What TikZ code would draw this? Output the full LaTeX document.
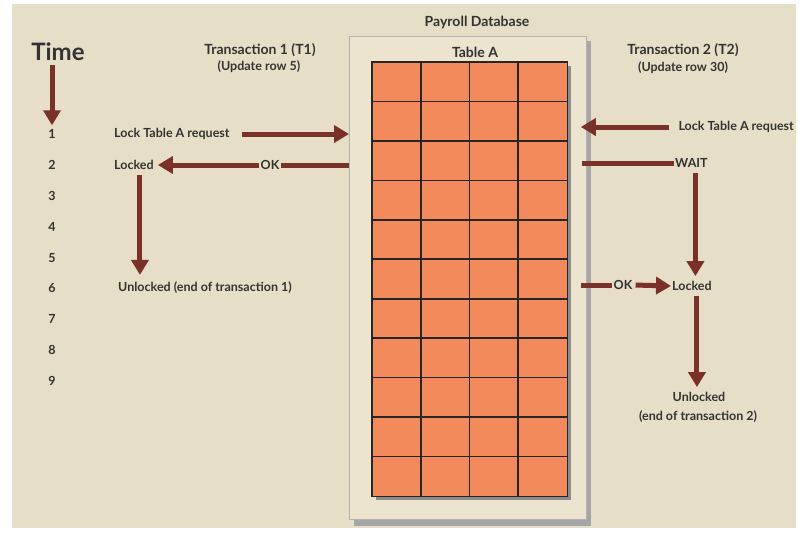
\documentclass[tikz,border=0pt]{standalone}
\usepackage{fontspec}
\setmainfont{Lato}
\usetikzlibrary{arrows.meta,positioning}

\definecolor{paper}{HTML}{E6DEC7}
\definecolor{panel}{HTML}{ECE4CF}
\definecolor{arrowred}{HTML}{7A3129}
\definecolor{cellorange}{HTML}{F38A5C}
\definecolor{ink}{HTML}{333333}

\tikzset{
  flow/.style={arrowred, line width=5pt, -{Triangle[width=17pt,length=15pt]}},
  bar/.style={arrowred, line width=5pt},
  lbl/.style={font=\bfseries\fontsize{12.5}{15}\selectfont, text=ink, inner sep=1pt},
  head/.style={font=\bfseries\fontsize{14}{16}\selectfont, text=ink, inner sep=1pt},
  sublbl/.style={font=\bfseries\fontsize{12.5}{14}\selectfont, text=ink, inner sep=1pt},
  tick/.style={font=\bfseries\fontsize{12.5}{14}\selectfont, text=ink, inner sep=1pt},
  gridline/.style={draw=black!85, line width=1.6pt},
}

\begin{document}
\begin{tikzpicture}[x=1pt,y=-1pt]
\useasboundingbox (0,0) rectangle (799,538);
\fill[paper] (12,4) rectangle (796,528);

% database panel
\fill[black!35] (354,41) rectangle (591,526);
\node[draw=gray!60, fill=panel, line width=0.8pt, minimum width=237pt, minimum height=483pt,
  anchor=north west, inner sep=0] (db) at (349,36) {};
\node[head] (dbname) at (477,22) {Payroll Database};
\node[head] (tblname) at (475,52) {Table A};

% table grid
\fill[black!45] (376,66) rectangle (571,500);
\node[fill=cellorange, minimum width=195pt, minimum height=434pt, anchor=north west,
  inner sep=0] (tbl) at (372,62) {};
\foreach \i in {1,2,3}
  \draw[gridline] (372+\i*48.75,62) -- (372+\i*48.75,496);
\foreach \j in {1,...,10}
  \draw[gridline] (372,62+\j*39.45) -- (567,62+\j*39.45);
\draw[gridline] (tbl.north west) rectangle (tbl.south east);

% time axis
\node[font=\bfseries\fontsize{24}{28}\selectfont, text=ink] (time) at (58,52) {Time};
\foreach \n in {1,...,9}
  \node[tick] (t\n) at (52,134+\n*30.9-30.9) {\n};
\draw[flow, shorten >=3pt] (time.south -| t1.north) -- (t1.north);

% transaction 1
\node[head] (tr1) at (260,50) {Transaction 1 (T1)};
\node[sublbl] (up1) at (259,67) {(Update row 5)};
\node[lbl, anchor=west] (req1) at (113,134) {Lock Table A request};
\node[lbl, anchor=west] (lock1) at (113,165) {Locked};
\node[lbl] (ok1) at (270,165) {OK};
\node[lbl, anchor=west] (unlock1) at (117,288) {Unlocked (end of transaction 1)};
\draw[flow, shorten <=11pt] (req1.east) -- (req1 -| db.west);
\draw[bar] (ok1 -| db.west) -- (ok1.east);
\draw[flow, shorten >=3pt] (ok1.west) -- (lock1.east);
\draw[flow, shorten <=4pt, shorten >=6pt] ([xshift=6pt]lock1.south) -- ([xshift=6pt]lock1.south |- unlock1.north);

% transaction 2
\node[head] (tr2) at (683,50) {Transaction 2 (T2)};
\node[sublbl] (up2) at (683,68) {(Update row 30)};
\node[lbl, anchor=east] (req2) at (795,127) {Lock Table A request};
\node[lbl, anchor=west] (wait2) at (674,163) {WAIT};
\node[lbl] (ok2) at (623,285) {OK};
\node[lbl, anchor=west] (lock2) at (671,286) {Locked};
\node[lbl] (unlock2) at (699,397) {Unlocked};
\node[lbl] (end2) at (698,417) {(end of transaction 2)};
\draw[flow, shorten <=8pt, shorten >=-6pt] (req2.west) -- (req2 -| db.east);
\draw[bar, shorten <=-5pt] (wait2 -| db.east) -- (wait2.west);
\draw[flow, shorten <=4pt, shorten >=4pt] ([xshift=4pt]wait2.south) -- ([xshift=4pt]wait2.south |- lock2.north);
\draw[bar, shorten <=-6pt] (ok2 -| db.east) -- (ok2.west);
\draw[flow, shorten <=2pt] (ok2.east) -- (lock2.west);
\draw[flow, shorten <=4pt, shorten >=4pt] ([xshift=5pt]lock2.south) -- ([xshift=5pt]lock2.south |- unlock2.north);
\end{tikzpicture}
\end{document}
